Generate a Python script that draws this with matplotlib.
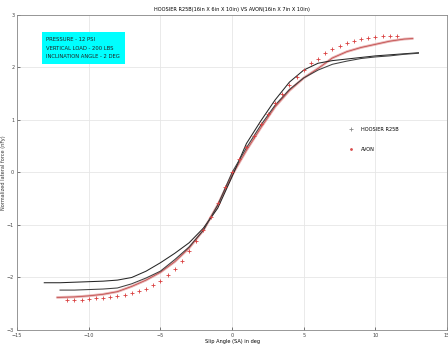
import numpy as np
import matplotlib
matplotlib.use("Agg")
import matplotlib.pyplot as plt
from matplotlib.lines import Line2D

# Hoosier R25B, two sweeps
sa_h1 = [-13.1, -12, -11, -10, -9, -8, -7, -6, -5, -4, -3, -2, -1, 0,
         1, 2, 3, 4, 5, 6, 7, 8, 9, 10, 11, 12, 13]
fy_h1 = [-2.10, -2.10, -2.09, -2.08, -2.07, -2.05, -2.00, -1.88, -1.72, -1.54,
         -1.34, -1.06, -0.68, -0.08, 0.55, 0.98, 1.38, 1.72, 1.95, 2.08,
         2.13, 2.16, 2.19, 2.22, 2.24, 2.26, 2.28]
sa_h2 = [-12, -11, -10, -9, -8, -7, -6, -5, -4, -3, -2, -1, 0,
         1, 2, 3, 4, 5, 6, 7, 8, 9, 10, 11, 12, 13]
fy_h2 = [-2.24, -2.24, -2.23, -2.22, -2.20, -2.12, -2.01, -1.88, -1.66, -1.42,
         -1.10, -0.62, 0.0, 0.47, 0.90, 1.28, 1.58, 1.80, 1.95, 2.06,
         2.12, 2.17, 2.20, 2.22, 2.25, 2.27]

# Avon, dense sweep and sparse sweep
sa_a1 = [-12.2, -11, -10, -9, -8, -7, -6, -5, -4, -3, -2, -1, 0,
         1, 2, 3, 4, 5, 6, 7, 8, 9, 10, 11, 12, 12.6]
fy_a1 = [-2.38, -2.37, -2.35, -2.32, -2.27, -2.17, -2.05, -1.90, -1.70, -1.44,
         -1.10, -0.62, -0.05, 0.42, 0.85, 1.25, 1.56, 1.80, 1.98, 2.18,
         2.30, 2.38, 2.44, 2.50, 2.54, 2.55]
sa_a2 = [-11.5, -11, -10.5, -10, -9.5, -9, -8.5, -8, -7.5, -7, -6.5, -6,
         -5.5, -5, -4.5, -4, -3.5, -3, -2.5, -2, -1.5, -1, -0.5, 0,
         0.5, 1, 1.5, 2, 2.5, 3, 3.5, 4, 4.5, 5, 5.5, 6, 6.5, 7, 7.5,
         8, 8.5, 9, 9.5, 10, 10.5, 11, 11.5]
fy_a2 = [-2.42, -2.42, -2.42, -2.41, -2.40, -2.39, -2.38, -2.36, -2.34, -2.30,
         -2.26, -2.21, -2.14, -2.06, -1.96, -1.84, -1.68, -1.50, -1.30, -1.10,
         -0.84, -0.58, -0.28, 0.0, 0.25, 0.48, 0.70, 0.92, 1.12, 1.32,
         1.50, 1.66, 1.82, 1.96, 2.08, 2.17, 2.27, 2.35, 2.41, 2.46,
         2.50, 2.54, 2.56, 2.58, 2.59, 2.60, 2.60]

xticks = [-15, -10, -5, 0, 5, 10, 15]
yticks = [-3, -2, -1, 0, 1, 2, 3]
info = "PRESSURE - 12 PSI\nVERTICAL LOAD - 200 LBS\nINCLINATION ANGLE - 2 DEG"

fig = plt.figure(figsize=(4.48, 3.47), dpi=100)
ax = fig.add_axes([0.038, 0.049, 0.96, 0.908])

# avon dense band
ax.plot(sa_a1, fy_a1, color=(0.85, 0.5, 0.5), lw=1.9, alpha=0.6, solid_capstyle='round')
ax.plot(sa_a1, fy_a1, color=(0.7, 0.15, 0.15), lw=0.5, alpha=0.8)
# hoosier
ax.plot(sa_h1, fy_h1, color=(0.15, 0.15, 0.15), lw=0.75)
ax.plot(sa_h2, fy_h2, color=(0.25, 0.25, 0.25), lw=0.75)
# avon sparse
ax.plot(sa_a2, fy_a2, ls='none', marker='+', ms=2.3, mew=0.6, color=(0.85, 0.25, 0.25))

ax.set_xlim(-15, 15)
ax.set_ylim(-3, 3)
ax.set_xticks(xticks)
ax.set_yticks(yticks)
ax.tick_params(direction='in', length=2, width=0.5, labelsize=3.5, colors='#444444', pad=2)
ax.grid(True, color='#e6e6e6', lw=0.6)
ax.set_axisbelow(True)
for s in ax.spines.values():
    s.set_color('#888888')
    s.set_linewidth(0.6)

ax.set_title("HOOSIER R25B(16in X 6in X 10in) VS AVON(16in X 7in X 10in)", fontsize=3.6, pad=3)
ax.set_xlabel("Slip Angle (SA) in deg", fontsize=3.6, labelpad=1)
ax.set_ylabel("Normalized lateral force (nFy)", fontsize=3.6, labelpad=1, color='#333333')

ax.text(0.068, 0.93, info, transform=ax.transAxes, fontsize=3.8, va='top', ha='left',
        linespacing=1.9, color='#222222',
        bbox=dict(boxstyle='square,pad=0.9', facecolor='#00ffff', edgecolor='none'))

handles = [Line2D([], [], ls='none', marker='+', ms=2.5, mew=0.6, color='#888888'),
           Line2D([], [], ls='none', marker='.', ms=2, color=(0.85, 0.3, 0.3))]
ax.legend(handles, ["HOOSIER R25B", "AVON"], loc='upper left', bbox_to_anchor=(0.76, 0.66),
          fontsize=3.6, frameon=False, labelspacing=3.0, handletextpad=1.5, handlelength=1)

fig.savefig("out.png", dpi=100)
